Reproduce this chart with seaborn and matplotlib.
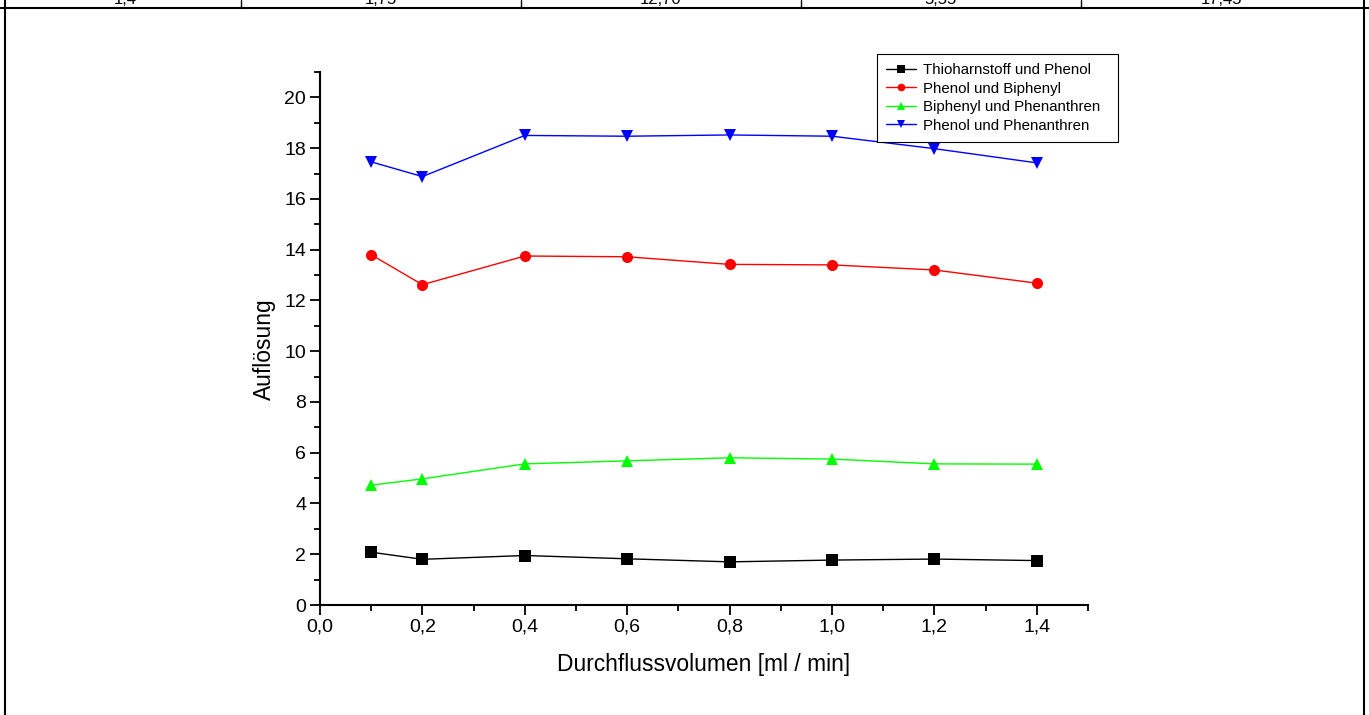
import matplotlib
matplotlib.use("Agg")
import matplotlib.pyplot as plt
import seaborn as sns
import pandas as pd
from matplotlib.ticker import MultipleLocator, FuncFormatter
from matplotlib.lines import Line2D

flow = [0.1, 0.2, 0.4, 0.6, 0.8, 1.0, 1.2, 1.4]
thio_phenol = [2.08, 1.80, 1.95, 1.82, 1.70, 1.77, 1.81, 1.75]
phenol_biphenyl = [13.80, 12.62, 13.75, 13.72, 13.42, 13.40, 13.20, 12.68]
biphenyl_phenanthren = [4.72, 4.97, 5.56, 5.68, 5.80, 5.75, 5.56, 5.55]
phenol_phenanthren = [17.46, 16.88, 18.50, 18.47, 18.52, 18.47, 17.98, 17.42]

series_names = ["Thioharnstoff und Phenol", "Phenol und Biphenyl",
                "Biphenyl und Phenanthren", "Phenol und Phenanthren"]
series_values = [thio_phenol, phenol_biphenyl, biphenyl_phenanthren, phenol_phenanthren]
colors = ["#000000", "#ff0000", "#00ff00", "#0000ff"]
markers = ["s", "o", "^", "v"]

table_row = ["1,4", "1,75", "12,70", "5,55", "17,45"]

rows = []
for name, vals in zip(series_names, series_values):
    for x, y in zip(flow, vals):
        rows.append({"Durchfluss": x, "Aufloesung": y, "Serie": name})
df = pd.DataFrame(rows)

sns.set_style("white")
plt.rcParams["font.family"] = ["Liberation Sans", "DejaVu Sans"]
plt.rcParams["text.color"] = "black"
plt.rcParams["axes.labelcolor"] = "black"
plt.rcParams["xtick.color"] = "black"
plt.rcParams["ytick.color"] = "black"

fig = plt.figure(figsize=(13.69, 7.15), dpi=100)
ax = fig.add_axes([320/1369, 1-605/715, (1088-320)/1369, (605-72)/715])

sns.lineplot(data=df, x="Durchfluss", y="Aufloesung", hue="Serie", style="Serie",
             hue_order=series_names, style_order=series_names,
             palette=colors, markers=markers, dashes=False, markersize=8,
             markeredgewidth=0, linewidth=1.0, ax=ax, legend=False)

ax.set_xlim(0, 1.5)
ax.set_ylim(0, 21)
ax.spines["top"].set_visible(False)
ax.spines["right"].set_visible(False)
for s in ["left", "bottom"]:
    ax.spines[s].set_linewidth(1.5)
    ax.spines[s].set_color("black")
ax.xaxis.set_major_locator(MultipleLocator(0.2))
ax.xaxis.set_minor_locator(MultipleLocator(0.1))
ax.yaxis.set_major_locator(MultipleLocator(2))
ax.yaxis.set_minor_locator(MultipleLocator(1))
ax.xaxis.set_major_formatter(FuncFormatter(lambda v, p: f"{v:.1f}".replace(".", ",")))
ax.yaxis.set_major_formatter(FuncFormatter(lambda v, p: f"{v:.0f}"))
ax.tick_params(which="major", direction="out", length=7, width=1.3, labelsize=14,
               bottom=True, left=True, pad=3)
ax.tick_params(which="minor", direction="out", length=4, width=1.3, bottom=True, left=True)
ax.set_xlabel("Durchflussvolumen [ml / min]", fontsize=16.4, labelpad=12)
ax.set_ylabel("Auflösung", fontsize=16.4)
ax.yaxis.set_label_coords(-0.058, 0.48)

handles = [Line2D([], [], color=c, marker=m, markersize=5.5, markeredgewidth=0, linewidth=1.0)
           for c, m in zip(colors, markers)]
lx0, ly1 = 877/1369, 1-54/715
lw_ = (1118-877)/1369
lh_ = (137-54)/715
leg = fig.legend(handles, series_names, loc="upper left",
                 bbox_to_anchor=(lx0, ly1-lh_, lw_, lh_), mode="expand", fontsize=10.8,
                 frameon=True, fancybox=False, framealpha=1, edgecolor="black",
                 handlelength=2.0, handletextpad=0.45, borderpad=0.6,
                 labelspacing=0.3, borderaxespad=0)
leg.get_frame().set_linewidth(0.8)

# table fragment and frame
lw = 1.5
fig.add_artist(Line2D([0, 1], [1-7.5/715]*2, color="black", linewidth=lw, transform=fig.transFigure))
for xp in [241, 521, 801, 1081]:
    fig.add_artist(Line2D([xp/1369]*2, [1, 1-7.5/715], color="black", linewidth=1.0, transform=fig.transFigure))
for xp in [4.5, 1364]:
    fig.add_artist(Line2D([xp/1369]*2, [0, 1], color="black", linewidth=lw, transform=fig.transFigure))
for xc, t in zip([125, 381, 661, 941, 1221], table_row):
    fig.text(xc/1369, 1-4/715, t, ha="center", va="baseline", fontsize=12)

fig.savefig("out.png", dpi=100)
